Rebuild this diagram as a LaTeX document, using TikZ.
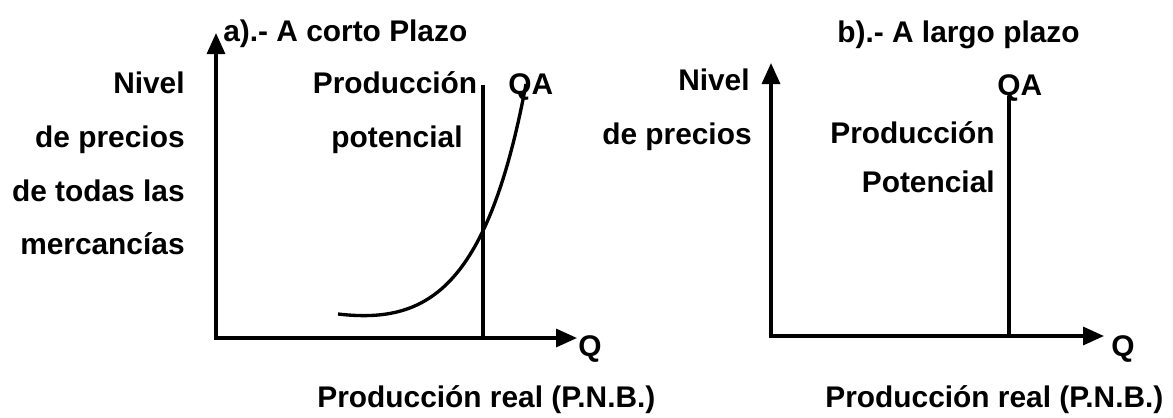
\documentclass[tikz,border=0pt]{standalone}
\usepackage{fontspec}
\setmainfont{Liberation Sans}
\usetikzlibrary{arrows.meta}

\begin{document}
\begin{tikzpicture}[x=0.02cm, y=-0.02cm]
    % Basic styles
    \tikzset{
        lbl/.style={inner sep=0pt, font=\bfseries\fontsize{17}{20}\selectfont},
        axis/.style={line width=1.9pt, {Triangle[length=0.42cm, width=0.36cm]}-{Triangle[length=0.42cm, width=0.36cm]}},
        curve/.style={line width=1.9pt}
    }
    \useasboundingbox (0,0) rectangle (1173,417);

    % a) Short run: axes
    \coordinate (oA) at (216,338);
    \coordinate (yA) at (216,33);
    \coordinate (xA) at (577,338);
    \draw[axis] (yA) -- (oA) -- (xA);

    % a) Potential output and supply curve
    \coordinate (potA) at (483,338);
    \coordinate (potAtop) at (483,85);
    \draw[curve] (potA) -- (potAtop);
    \coordinate (qaStart) at (338,314);
    \coordinate (qaEnd) at (526,84);
    \draw[curve] (qaStart) .. controls (425,324) and (487,292) .. (qaEnd);

    % a) Labels
    \node[lbl, anchor=base west] (titleA) at (223,41) {a).- A corto Plazo};
    \node[lbl, anchor=base east] (nivelA) at (185,93) {Nivel};
    \node[lbl, anchor=base east] (preciosA) at (185,147) {de precios};
    \node[lbl, anchor=base east] (todasA) at (185,201) {de todas las};
    \node[lbl, anchor=base east] (mercA) at (185,254) {mercancías};
    \node[lbl, anchor=base] (prodA) at (395,93) {Producción};
    \node[lbl, anchor=base] (potencialA) at (397,147) {potencial};
    \node[lbl, anchor=base west] (qaA) at (508,94) {QA};
    \node[lbl, anchor=base west] (qA) at (578,356) {Q};
    \node[lbl, anchor=base west] (realA) at (317,407) {Producción real (P.N.B.)};

    % b) Long run: axes
    \coordinate (oB) at (771,336);
    \coordinate (yB) at (771,63);
    \coordinate (xB) at (1104,336);
    \draw[axis] (yB) -- (oB) -- (xB);

    % b) Potential output
    \coordinate (potB) at (1009,336);
    \coordinate (potBtop) at (1009,96);
    \draw[curve] (potB) -- (potBtop);

    % b) Labels
    \node[lbl, anchor=base west] (titleB) at (837,42) {b).- A largo plazo};
    \node[lbl, anchor=base east] (nivelB) at (750,90) {Nivel};
    \node[lbl, anchor=base east] (preciosB) at (752,144) {de precios};
    \node[lbl, anchor=base east] (prodB) at (995,143) {Producción};
    \node[lbl, anchor=base east] (potencialB) at (995,192) {Potencial};
    \node[lbl, anchor=base west] (qaB) at (997,95) {QA};
    \node[lbl, anchor=base west] (qB) at (1111,356) {Q};
    \node[lbl, anchor=base west] (realB) at (825,407) {Producción real (P.N.B.)};
\end{tikzpicture}
\end{document}
